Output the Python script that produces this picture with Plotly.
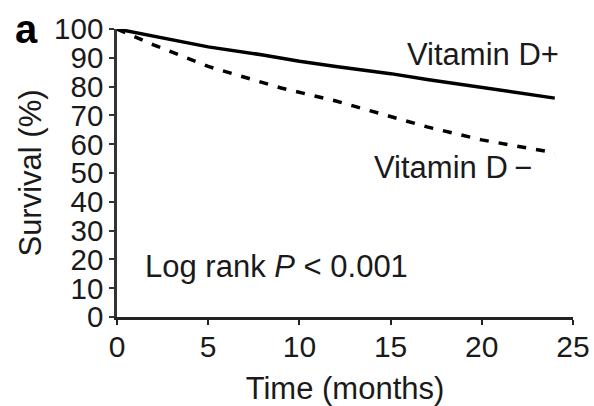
import plotly.graph_objects as go

# Survival over follow-up time by vitamin D status
months_pos = [0, 2, 5, 8, 10, 12, 15, 17, 20, 22, 24]
survival_pos = [100, 97.5, 93.8, 91, 88.8, 87, 84.5, 82.5, 79.8, 78, 76]

months_neg = [0, 2, 5, 9, 12, 15, 17, 20, 23, 24]
survival_neg = [100, 94.5, 87, 79.5, 75, 69.5, 66, 61.5, 58, 57]

x_ticks = [0, 5, 10, 15, 20, 25]
y_ticks = [0, 10, 20, 30, 40, 50, 60, 70, 80, 90, 100]

FONT = "Liberation Sans, Arial, Helvetica, sans-serif"
INK = "#1a1a1a"
TXT = 31

fig = go.Figure()
fig.add_trace(go.Scatter(
    x=months_pos, y=survival_pos, mode="lines",
    line=dict(color="black", width=3.5), showlegend=False,
))
fig.add_trace(go.Scatter(
    x=months_neg, y=survival_neg, mode="lines",
    line=dict(color="black", width=3.5, dash="9px,10px"), showlegend=False,
))

annotations = [
    dict(text="Vitamin D+", x=15.8, y=91.0, xref="x", yref="y",
         xanchor="left", yanchor="middle", showarrow=False),
    dict(text="Vitamin D\u2009\u2212", x=14.0, y=51.9, xref="x", yref="y",
         xanchor="left", yanchor="middle", showarrow=False),
    dict(text="Log rank <i>P</i> < 0.001", x=1.45, y=17.6, xref="x", yref="y",
         xanchor="left", yanchor="middle", showarrow=False),
    dict(text="<b>a</b>", x=-0.198, y=1.0, xref="paper", yref="paper",
         xanchor="center", yanchor="middle", showarrow=False,
         font=dict(size=40, color="black", family=FONT)),
]

fig.update_layout(
    width=594, height=406,
    margin=dict(l=117, r=21, t=29, b=89, pad=0, autoexpand=False),
    paper_bgcolor="white", plot_bgcolor="white",
    font=dict(family=FONT, size=TXT, color=INK),
    annotations=annotations,
    xaxis=dict(
        range=[0, 25], tickvals=x_ticks, ticks="outside", ticklen=5,
        tickwidth=2, tickcolor="#222", showline=True, linewidth=2.5,
        linecolor="#222", showgrid=False, zeroline=False, automargin=False,
        tickfont=dict(size=30), ticklabelstandoff=-4,
        title=dict(text="Time (months)", standoff=20,
                   font=dict(size=TXT, family=FONT, color=INK)),
    ),
    yaxis=dict(
        range=[0, 100], tickvals=y_ticks, ticks="outside", ticklen=5,
        tickwidth=2, tickcolor="#333", showline=True, linewidth=2.5,
        linecolor="#333", showgrid=False, zeroline=False, automargin=False,
        tickfont=dict(size=29.5),
        title=dict(text="Survival (%)", standoff=4,
                   font=dict(size=TXT, family=FONT, color=INK)),
    ),
)

fig.write_html("out.html")
